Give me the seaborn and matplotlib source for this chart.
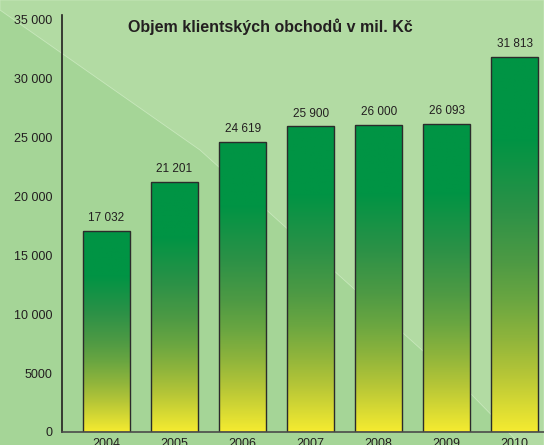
import numpy as np
import pandas as pd
import matplotlib
matplotlib.use("Agg")
import matplotlib.pyplot as plt
from matplotlib.colors import LinearSegmentedColormap
from matplotlib.patches import Polygon
import seaborn as sns

years = ["2004", "2005", "2006", "2007", "2008", "2009", "2010"]
values = [17032, 21201, 24619, 25900, 26000, 26093, 31813]
labels = ["17 032", "21 201", "24 619", "25 900", "26 000", "26 093", "31 813"]
yticks = [0, 5000, 10000, 15000, 20000, 25000, 30000, 35000]
ytick_labels = ["0", "5000", "10 000", "15 000", "20 000", "25 000", "30 000", "35 000"]
title = "Objem klientských obchodů v mil. Kč"

sns.set_style("white")
plt.rcParams["font.family"] = ["Liberation Sans", "DejaVu Sans"]
txt = "#231f20"

W, H = 544, 445
fig = plt.figure(figsize=(W / 100, H / 100), dpi=100)
fig.patch.set_facecolor("#a5d597")

# lighter upper-right background region (decoration)
pts = [(0, 10), (200, 150), (403, 333), (472, 395), (518, 442), (544, 470), (544, 0), (0, 0)]
poly = Polygon([(x / W, 1 - y / H) for x, y in pts], closed=True,
               transform=fig.transFigure, facecolor="#b2dba3", edgecolor="#c8e8bc",
               linewidth=0.6, zorder=-5)
fig.patches.append(poly)

ax = fig.add_axes([62 / W, 1 - 432 / H, 1 - 62 / W, (432 - 15) / H])
ax.set_facecolor("none")
ax.set_zorder(1)

df = pd.DataFrame({"year": years, "value": values})
sns.barplot(data=df, x="year", y="value", ax=ax, width=0.69,
            color="#00923f", edgecolor="#2b2b2b", linewidth=1.0, saturation=1)

cmap = LinearSegmentedColormap.from_list(
    "g", [(0.0, "#f5eb30"), (0.15, "#b6c637"), (0.25, "#8eb43c"), (0.35, "#6aa641"),
          (0.45, "#4e9a44"), (0.6, "#2a9147"), (0.78, "#009444"), (1.0, "#009444")])
grad = np.linspace(0, 1, 256).reshape(-1, 1)
for p in ax.patches:
    x0, w, h = p.get_x(), p.get_width(), p.get_height()
    im = ax.imshow(grad, cmap=cmap, origin="lower", aspect="auto",
                   extent=[x0, x0 + w, 0, h], zorder=p.get_zorder() - 0.1)
    im.set_clip_path(p)
    p.set_facecolor("none")

for i, (v, lab) in enumerate(zip(values, labels)):
    ax.annotate(lab, (i, v), xytext=(0, 5), textcoords="offset points",
                ha="center", va="bottom", fontsize=8.5, color=txt)

ax.set_xlim(-0.654, 6.43)
ax.set_ylim(0, 35350)
ax.set_yticks(yticks)
ax.set_yticklabels(ytick_labels)
ax.tick_params(axis="both", length=0, labelsize=9, labelcolor=txt)
ax.tick_params(axis="y", pad=7)
ax.tick_params(axis="x", pad=4.5)
ax.set_xlabel("")
ax.set_ylabel("")
for s in ["top", "right"]:
    ax.spines[s].set_visible(False)
ax.spines["left"].set_color(txt)
ax.spines["left"].set_linewidth(1.2)
ax.spines["bottom"].set_color("#4a4a4a")
ax.spines["bottom"].set_linewidth(1.2)

fig.text(270 / W, 1 - 27 / H, title, ha="center", va="center",
         fontsize=11.5, fontweight="bold", color=txt)

fig.savefig("out.png", dpi=100, facecolor=fig.get_facecolor())
